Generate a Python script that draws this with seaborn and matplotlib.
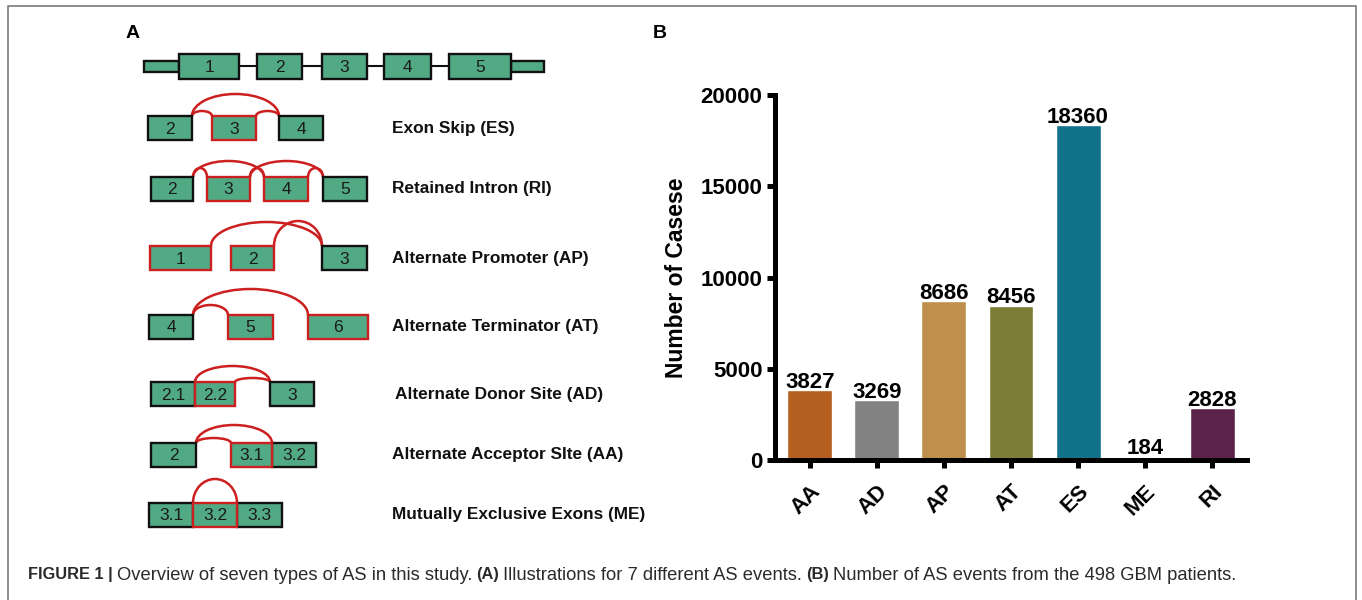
import matplotlib
matplotlib.use("Agg")
import matplotlib.pyplot as plt
from matplotlib.patches import Rectangle, Arc
import seaborn as sns

# Panel B data
event_types = ["AA", "AD", "AP", "AT", "ES", "ME", "RI"]
event_counts = [3827, 3269, 8686, 8456, 18360, 184, 2828]
bar_colors = ["#B45F1F", "#828282", "#BE904B", "#7E7D38", "#12728A", "#1E2B5A", "#5B234A"]
y_ticks = [0, 5000, 10000, 15000, 20000]

# Panel A schematic (pixel layout of the reference)
event_names = [
    "Exon Skip (ES)",
    "Retained Intron (RI)",
    "Alternate Promoter (AP)",
    "Alternate Terminator (AT)",
    "Alternate Donor Site (AD)",
    "Alternate Acceptor SIte (AA)",
    "Mutually Exclusive Exons (ME)",
]
row_y = [128, 189, 258, 327, 394, 455, 515]
row_exons = [
    [(148, 192, "2", "k"), (212, 256, "3", "r"), (279, 323, "4", "k")],
    [(151, 193, "2", "k"), (207, 250, "3", "r"), (264, 308, "4", "r"), (323, 367, "5", "k")],
    [(150, 211, "1", "r"), (231, 274, "2", "r"), (322, 367, "3", "k")],
    [(149, 193, "4", "k"), (228, 273, "5", "r"), (308, 368, "6", "r")],
    [(151, 195, "2.1", "k"), (195, 235, "2.2", "r"), (270, 314, "3", "k")],
    [(151, 196, "2", "k"), (231, 272, "3.1", "r"), (272, 316, "3.2", "k")],
    [(149, 193, "3.1", "k"), (193, 237, "3.2", "r"), (237, 282, "3.3", "k")],
]
row_arcs = [
    [(192, 279, 94), (192, 212, 111), (256, 279, 111)],
    [(193, 264, 161), (250, 323, 161), (193, 207, 168), (250, 264, 168), (308, 323, 168)],
    [(211, 322, 222), (274, 322, 221)],
    [(193, 308, 289), (193, 228, 305)],
    [(195, 270, 366), (235, 270, 378)],
    [(196, 272, 425), (196, 231, 438)],
    [(193, 237, 479)],
]
gene_exons = [(179, 239, "1"), (257, 302, "2"), (322, 367, "3"), (384, 431, "4"), (449, 511, "5")]
gene_utrs = [(144, 179), (511, 544)]

EXON_FILL = "#52AA85"
RED = "#CC1F1F"

sns.set_style("ticks")
plt.rcParams["font.family"] = ["Liberation Sans", "DejaVu Sans"]
plt.rcParams["text.color"] = "black"
plt.rcParams["axes.labelcolor"] = "black"
plt.rcParams["axes.edgecolor"] = "black"
plt.rcParams["xtick.color"] = "black"
plt.rcParams["ytick.color"] = "black"

fig = plt.figure(figsize=(13.62, 6.0), dpi=100)

# overlay axes in pixel coordinates for schematic, frame and caption
ax0 = fig.add_axes([0, 0, 1, 1])
ax0.set_xlim(0, 1362)
ax0.set_ylim(600, 0)
ax0.axis("off")

# frame
ax0.plot([8, 8, 1356, 1356], [600, 6, 6, 600], color="#7a7a7a", lw=1.2)

ax0.text(133, 33, "A", fontsize=14, fontweight="bold", ha="center", va="center")
ax0.text(660, 33, "B", fontsize=14, fontweight="bold", ha="center", va="center")


def draw_exon(x0, x1, yc, h, label, edge):
    ec = RED if edge == "r" else "#111111"
    ax0.add_patch(Rectangle((x0, yc - h / 2), x1 - x0, h, facecolor=EXON_FILL,
                            edgecolor=ec, lw=1.7, zorder=3 if edge == "k" else 4))
    if label:
        ax0.text((x0 + x1) / 2, yc + 1, label, fontsize=12.5, ha="center", va="center",
                 color="#1a1a1a", zorder=5)


# gene model
ax0.plot([144, 544], [66, 66], color="#111111", lw=1.5, zorder=2)
for x0, x1 in gene_utrs:
    draw_exon(x0, x1, 66, 11, "", "k")
for x0, x1, lab in gene_exons:
    draw_exon(x0, x1, 66, 25, lab, "k")

# event rows
for name, yc, exons, arcs in zip(event_names, row_y, row_exons, row_arcs):
    for x0, x1, lab, edge in exons:
        draw_exon(x0, x1, yc, 24, lab, edge)
    base = yc - 12
    for x0, x1, peak in arcs:
        ax0.add_patch(Arc(((x0 + x1) / 2, base), x1 - x0, 2 * (base - peak),
                          theta1=180, theta2=360, color=RED, lw=1.8, zorder=2))
    lx = 395 if "Donor" in name else 392
    ax0.text(lx, yc, name, fontsize=12.4, fontweight="bold", ha="left", va="center",
             color="#111111")

# caption with bold parts
caption = [
    ("FIGURE 1 |", "bold"),
    ("Overview of seven types of AS in this study.", "normal"),
    ("(A)", "bold"),
    ("Illustrations for 7 different AS events.", "normal"),
    ("(B)", "bold"),
    ("Number of AS events from the 498 GBM patients.", "normal"),
]
renderer = fig.canvas.get_renderer()
cx = 28
for seg, w in caption:
    size = 11.8 if w == "bold" else 13.2
    t = ax0.text(cx, 575, seg, fontsize=size, fontweight=w, ha="left", va="center",
                 color="#2a2a2a")
    bb = t.get_window_extent(renderer=renderer)
    cx += bb.width + 4

# Panel B bar chart
ax = fig.add_axes([775 / 1362, 140 / 600, 472 / 1362, 365 / 600])
ax.patch.set_alpha(0)
sns.barplot(x=event_types, y=event_counts, hue=event_types, palette=bar_colors,
            legend=False, width=0.67, saturation=1, ax=ax)
ax.set_xlim(-0.52, 6.52)
ax.set_ylim(0, 20000)
ax.set_yticks(y_ticks)
ax.set_yticklabels([str(v) for v in y_ticks], fontsize=16, fontweight="bold")
ax.set_xticks(range(len(event_types)))
ax.set_xticklabels(event_types, fontsize=16, fontweight="bold")
plt.setp(ax.get_xticklabels(), rotation=45, ha="right", va="top", rotation_mode="anchor")
for c in ax.containers:
    ax.bar_label(c, labels=[f"{v:.0f}" for v in c.datavalues], padding=-2,
                 fontsize=16, fontweight="bold", color="black")
sns.despine(ax=ax)
for s in ["left", "bottom"]:
    ax.spines[s].set_linewidth(3.6)
ax.tick_params(axis="both", width=3.6, length=6, colors="black")
ax.tick_params(axis="y", pad=3)
ax.tick_params(axis="x", pad=9)
ax.set_ylabel("Number of Casese", fontsize=16.5, fontweight="bold", labelpad=9,
              color="black")
ax.set_xlabel("")

fig.savefig("out.png", dpi=100)
